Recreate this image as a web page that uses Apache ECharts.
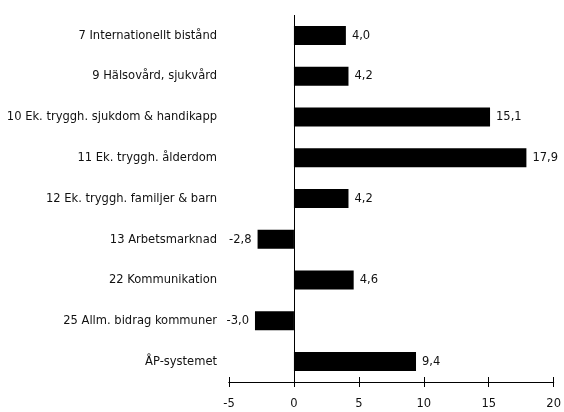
<!DOCTYPE html>
<html><head><meta charset="utf-8">
<script src="https://cdn.jsdelivr.net/npm/echarts@6/dist/echarts.min.js"></script>
<style>html,body{margin:0;padding:0;background:#fff}#c{width:564px;height:412px}</style>
</head><body><div id="c"></div>
<script>
const categories = ["7 Internationellt bistånd","9 Hälsovård, sjukvård","10 Ek. tryggh. sjukdom & handikapp","11 Ek. tryggh. ålderdom","12 Ek. tryggh. familjer & barn","13 Arbetsmarknad","22 Kommunikation","25 Allm. bidrag kommuner","ÅP-systemet"];
const values = [4.0, 4.2, 15.1, 17.9, 4.2, -2.8, 4.6, -3.0, 9.4];
const xTicks = [-5, 0, 5, 10, 15, 20];

const FONT = '"Liberation Sans Narrow","DejaVu Sans Condensed",sans-serif';
const FS = 12.8;
const chart = echarts.init(document.getElementById('c'));
const fmt = v => String(v.toFixed(1)).replace('.', ',');
const axisBase = {
  type: 'value', min: xTicks[0], max: xTicks[xTicks.length-1], interval: 5,
  position: 'bottom', splitLine: {show: false},
  axisLine: {show: true, onZero: false, lineStyle: {color: '#000', width: 1}}
};
chart.setOption({
  animation: false,
  grid: {left: 229, right: 7, top: 15, bottom: 30, containLabel: false},
  xAxis: [
    Object.assign({}, axisBase, {
      axisTick: {show: true, length: 5, lineStyle: {color: '#000'}},
      axisLabel: {color: '#111', fontFamily: FONT, fontSize: FS, margin: 15, formatter: v => String(v)}
    }),
    Object.assign({}, axisBase, {
      axisTick: {show: true, inside: true, length: 5, lineStyle: {color: '#000'}},
      axisLabel: {show: false}
    })
  ],
  yAxis: {
    type: 'category', data: categories, inverse: true,
    axisLine: {show: false}, axisTick: {show: false},
    axisLabel: {color: '#111', fontFamily: FONT, fontSize: FS, margin: 12}
  },
  series: [{
    type: 'bar', data: values.map(v => ({
      value: v,
      label: {position: v < 0 ? 'left' : 'right'}
    })),
    barWidth: 19,
    itemStyle: {color: '#000'},
    label: {show: true, color: '#111', fontFamily: FONT, fontSize: FS, distance: 6,
      formatter: p => fmt(p.value)},
    markLine: {
      silent: true, symbol: 'none', label: {show: false},
      lineStyle: {color: '#000', width: 1, type: 'solid'},
      data: [{xAxis: 0}]
    }
  }]
});
</script></body></html>
